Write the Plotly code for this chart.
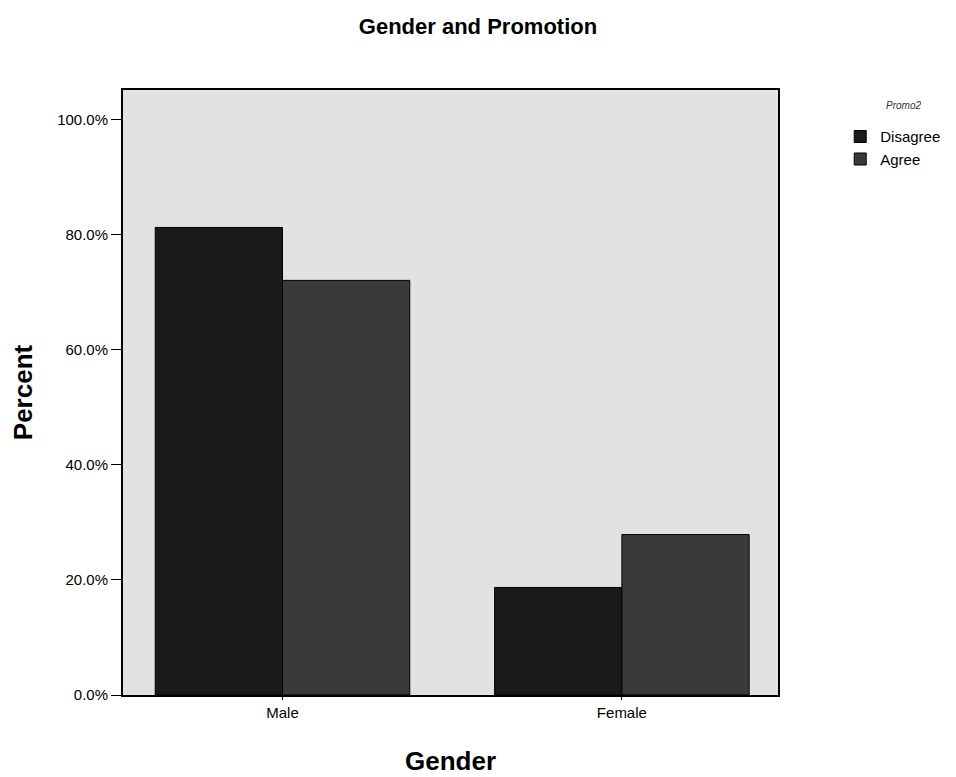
import plotly.graph_objects as go

categories = ["Male", "Female"]
disagree = [81.3, 18.7]
agree = [72.1, 27.9]
tick_vals = [0, 20, 40, 60, 80, 100]
tick_text = ["0.0%", "20.0%", "40.0%", "60.0%", "80.0%", "100.0%"]

fig = go.Figure()
fig.add_trace(go.Bar(x=categories, y=disagree, name="Disagree",
                     marker=dict(color="#1a1a1a", line=dict(color="#000000", width=1))))
fig.add_trace(go.Bar(x=categories, y=agree, name="Agree",
                     marker=dict(color="#3a3a3a", line=dict(color="#000000", width=1))))

fig.update_layout(
    width=956, height=777,
    margin=dict(l=115, r=186, t=82, b=90),
    paper_bgcolor="white",
    plot_bgcolor="#e2e2e2",
    barmode="group",
    bargap=0.25,
    bargroupgap=0,
    font=dict(family="Liberation Sans, Arial", color="#000000"),
    title=dict(text="<b>Gender and Promotion</b>", x=0.4916, xanchor="center",
               y=0.977, yanchor="middle", font=dict(size=22)),
    legend=dict(x=1.095, y=0.95, xanchor="left", yanchor="top",
                font=dict(size=15), itemwidth=30, tracegroupgap=0,
                bgcolor="rgba(0,0,0,0)"),
    showlegend=True,
    annotations=[dict(text="<i>Promo2</i>", xref="paper", yref="paper",
                      x=1.191, y=0.975, xanchor="center", yanchor="middle",
                      showarrow=False, font=dict(size=10, color="#333333"))],
)
fig.update_xaxes(
    range=[-0.47, 1.46],
    showline=True, linecolor="#000000", linewidth=2, mirror=True,
    ticks="outside", ticklen=3, tickcolor="#000000",
    tickfont=dict(size=15),
    title=dict(text="<b>Gender</b>", font=dict(size=26), standoff=32),
    showgrid=False,
)
fig.update_yaxes(
    range=[0, 105.2],
    tickvals=tick_vals, ticktext=tick_text,
    showline=True, linecolor="#000000", linewidth=2, mirror=True,
    ticks="outside", ticklen=10, tickcolor="#000000",
    tickfont=dict(size=15),
    title=dict(text="<b>Percent</b>", font=dict(size=26), standoff=18),
    showgrid=False, zeroline=False,
)

fig.write_html("out.html")
